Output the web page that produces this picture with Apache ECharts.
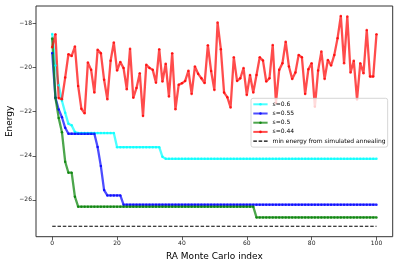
<!DOCTYPE html>
<html>
<head>
<meta charset="utf-8">
<script src="https://cdn.jsdelivr.net/npm/echarts@6/dist/echarts.min.js"></script>
<style>html,body{margin:0;padding:0;background:#fff;}#chart{width:399px;height:266px;}</style>
</head>
<body>
<div id="chart"></div>
<script>
// Monte Carlo index ticks
const xTicks = [0, 20, 40, 60, 80, 100];
const yTicks = [-26, -24, -22, -20, -18];

const s060 = [-18.47, -19.9, -20.8, -21.5, -22.05, -22.55, -22.62, -22.92,
  -22.97, -22.97, -22.97, -22.97, -22.97, -22.97, -22.97, -22.97, -22.97, -22.97, -22.97, -22.97,
  -23.61, -23.61, -23.61, -23.61, -23.61, -23.61, -23.61, -23.61, -23.61, -23.61, -23.61, -23.61, -23.61, -23.61,
  -24.05,
  -24.14, -24.14, -24.14, -24.14, -24.14, -24.14, -24.14, -24.14, -24.14, -24.14, -24.14, -24.14, -24.14, -24.14, -24.14,
  -24.14, -24.14, -24.14, -24.14, -24.14, -24.14, -24.14, -24.14, -24.14, -24.14, -24.14, -24.14, -24.14, -24.14, -24.14,
  -24.14, -24.14, -24.14, -24.14, -24.14, -24.14, -24.14, -24.14, -24.14, -24.14, -24.14, -24.14, -24.14, -24.14, -24.14,
  -24.14, -24.14, -24.14, -24.14, -24.14, -24.14, -24.14, -24.14, -24.14, -24.14, -24.14, -24.14, -24.14, -24.14, -24.14,
  -24.14, -24.14, -24.14, -24.14, -24.14, -24.14];

const s055 = [-19.33, -21.37, -21.9, -22.25, -22.73,
  -23.0, -23.0, -23.0, -23.0, -23.0, -23.0, -23.0, -23.0, -23.0,
  -23.6, -24.47, -25.56,
  -25.8, -25.8, -25.8, -25.8, -25.8,
  -26.22, -26.22, -26.22, -26.22, -26.22, -26.22, -26.22, -26.22, -26.22, -26.22,
  -26.22, -26.22, -26.22, -26.22, -26.22, -26.22, -26.22, -26.22, -26.22, -26.22,
  -26.22, -26.22, -26.22, -26.22, -26.22, -26.22, -26.22, -26.22, -26.22, -26.22,
  -26.22, -26.22, -26.22, -26.22, -26.22, -26.22, -26.22, -26.22, -26.22, -26.22,
  -26.22, -26.22, -26.22, -26.22, -26.22, -26.22, -26.22, -26.22, -26.22, -26.22,
  -26.22, -26.22, -26.22, -26.22, -26.22, -26.22, -26.22, -26.22, -26.22, -26.22,
  -26.22, -26.22, -26.22, -26.22, -26.22, -26.22, -26.22, -26.22, -26.22, -26.22,
  -26.22, -26.22, -26.22, -26.22, -26.22, -26.22, -26.22, -26.22, -26.22];

const s050 = [-18.68, -21.37, -22.28, -22.93, -24.27, -24.77, -24.77, -25.86,
  -26.31, -26.31, -26.31, -26.31, -26.31, -26.31, -26.31, -26.31, -26.31, -26.31,
  -26.31, -26.31, -26.31, -26.31, -26.31, -26.31, -26.31, -26.31, -26.31, -26.31,
  -26.31, -26.31, -26.31, -26.31, -26.31, -26.31, -26.31, -26.31, -26.31, -26.31,
  -26.31, -26.31, -26.31, -26.31, -26.31, -26.31, -26.31, -26.31, -26.31, -26.31,
  -26.31, -26.31, -26.31, -26.31, -26.31, -26.31, -26.31, -26.31, -26.31, -26.31,
  -26.31, -26.31, -26.31, -26.31, -26.31,
  -26.8, -26.8, -26.8, -26.8, -26.8, -26.8, -26.8, -26.8, -26.8, -26.8,
  -26.8, -26.8, -26.8, -26.8, -26.8, -26.8, -26.8, -26.8, -26.8, -26.8,
  -26.8, -26.8, -26.8, -26.8, -26.8, -26.8, -26.8, -26.8, -26.8, -26.8,
  -26.8, -26.8, -26.8, -26.8, -26.8, -26.8, -26.8, -26.8];

const s044 = [-19.07, -18.48, -21.38, -21.43, -20.45, -19.39, -19.47, -19.04, -20.83, -21.87,
  -22.07, -19.77, -20.1, -21.13, -19.19, -19.34, -20.55, -21.43, -19.69, -18.86,
  -20.13, -19.74, -20.02, -20.98, -19.14, -21.37, -20.92, -20.25, -22.2, -19.87,
  -20.01, -20.1, -20.68, -19.16, -20.63, -19.82, -21.31, -19.34, -21.89, -20.78,
  -20.71, -20.6, -20.14, -21.19, -19.95, -20.28, -20.48, -20.7, -18.98, -20.15,
  -21.01, -17.95, -19.16, -21.13, -21.34, -21.81, -19.53, -20.6, -20.48, -20.02,
  -21.24, -20.33, -21.13, -20.33, -19.53, -19.68, -20.63, -20.48, -18.97, -21.6,
  -20.1, -19.8, -18.82, -19.95, -20.51, -20.22, -19.42, -19.53, -21.2, -20.07,
  -19.8, -21.78, -20.13, -19.27, -20.51, -19.65, -19.9, -19.42, -18.66, -17.65,
  -19.8, -17.68, -20.22, -19.69, -21.45, -19.8, -20.25, -18.29, -20.4, -20.4,
  -18.48];

const saX = [0, 100];
const saY = [-27.2, -27.2];

function pairs(arr) { return arr.map((v, i) => [i, v]); }
function fmt(v) { return v < 0 ? '\u2212' + Math.abs(v) : String(v); }

const chart = echarts.init(document.getElementById('chart'), null, {renderer: 'canvas'});
const FONT = 'DejaVu Sans';

function lineSeries(name, color, arr) {
  return {
    name: name, type: 'line', data: pairs(arr),
    symbol: 'circle', symbolSize: 2.5, showSymbol: true,
    lineStyle: {color: color, width: 2.3, opacity: 0.7},
    itemStyle: {color: color, opacity: 0.8},
    emphasis: {disabled: true}
  };
}

const dashIcon = 'path://M0,0h3.6v1.1h-3.6z M5.3,0h3.6v1.1h-3.6z M10.6,0h3.7v1.1h-3.7z';

chart.setOption({
  animation: false,
  textStyle: {fontFamily: FONT},
  grid: {left: 36, right: 6.3, top: 6, bottom: 29.3, show: true, borderColor: '#333', borderWidth: 1,
    backgroundColor: 'transparent', containLabel: false, outerBoundsMode: 'none'},
  xAxis: {
    type: 'value', min: -5, max: 105,
    name: 'RA Monte Carlo index', nameLocation: 'middle', nameGap: 15,
    nameTextStyle: {fontSize: 9, color: '#000', fontFamily: FONT},
    axisLine: {show: false, onZero: false},
    splitLine: {show: false},
    axisTick: {show: true, customValues: xTicks, length: 3.5, inside: false, lineStyle: {color: '#333', width: 0.8}},
    axisLabel: {customValues: xTicks, fontSize: 6, color: '#222', margin: 3.5, formatter: fmt, fontFamily: FONT}
  },
  yAxis: {
    type: 'value', min: -27.675, max: -17.2,
    name: 'Energy', nameLocation: 'middle', nameGap: 22, nameMoveOverlap: false,
    nameTextStyle: {fontSize: 9, color: '#000', fontFamily: FONT},
    axisLine: {show: false, onZero: false},
    splitLine: {show: false},
    axisTick: {show: true, customValues: yTicks, length: 3.5, inside: false, lineStyle: {color: '#333', width: 0.8}},
    axisLabel: {customValues: yTicks, fontSize: 6, color: '#222', margin: 4, formatter: fmt, fontFamily: FONT}
  },
  legend: {
    orient: 'vertical', left: 251, top: 98.3,
    padding: [2.5, 2, 2.5, 1.3],
    itemWidth: 14.3, itemHeight: 3.2, itemGap: 2.2,
    backgroundColor: 'rgba(255,255,255,0.8)', borderColor: '#cccccc', borderWidth: 0.8, borderRadius: 2,
    textStyle: {fontSize: 6, color: '#000', fontFamily: FONT, lineHeight: 7},
    data: ['s=0.6', 's=0.55', 's=0.5', 's=0.44',
      {name: 'min energy from simulated annealing', icon: dashIcon, itemStyle: {color: '#000'}}]
  },
  series: [
    lineSeries('s=0.6', '#00ffff', s060),
    lineSeries('s=0.55', '#0000ff', s055),
    lineSeries('s=0.5', '#008000', s050),
    lineSeries('s=0.44', '#ff0000', s044),
    {
      name: 'min energy from simulated annealing', type: 'line',
      data: saX.map((x, i) => [x, saY[i]]),
      symbol: 'none', showSymbol: false,
      lineStyle: {color: '#000', width: 1.1, type: [3.5, 1.8]},
      itemStyle: {color: '#000'},
      emphasis: {disabled: true}
    }
  ]
});
</script>
</body>
</html>
